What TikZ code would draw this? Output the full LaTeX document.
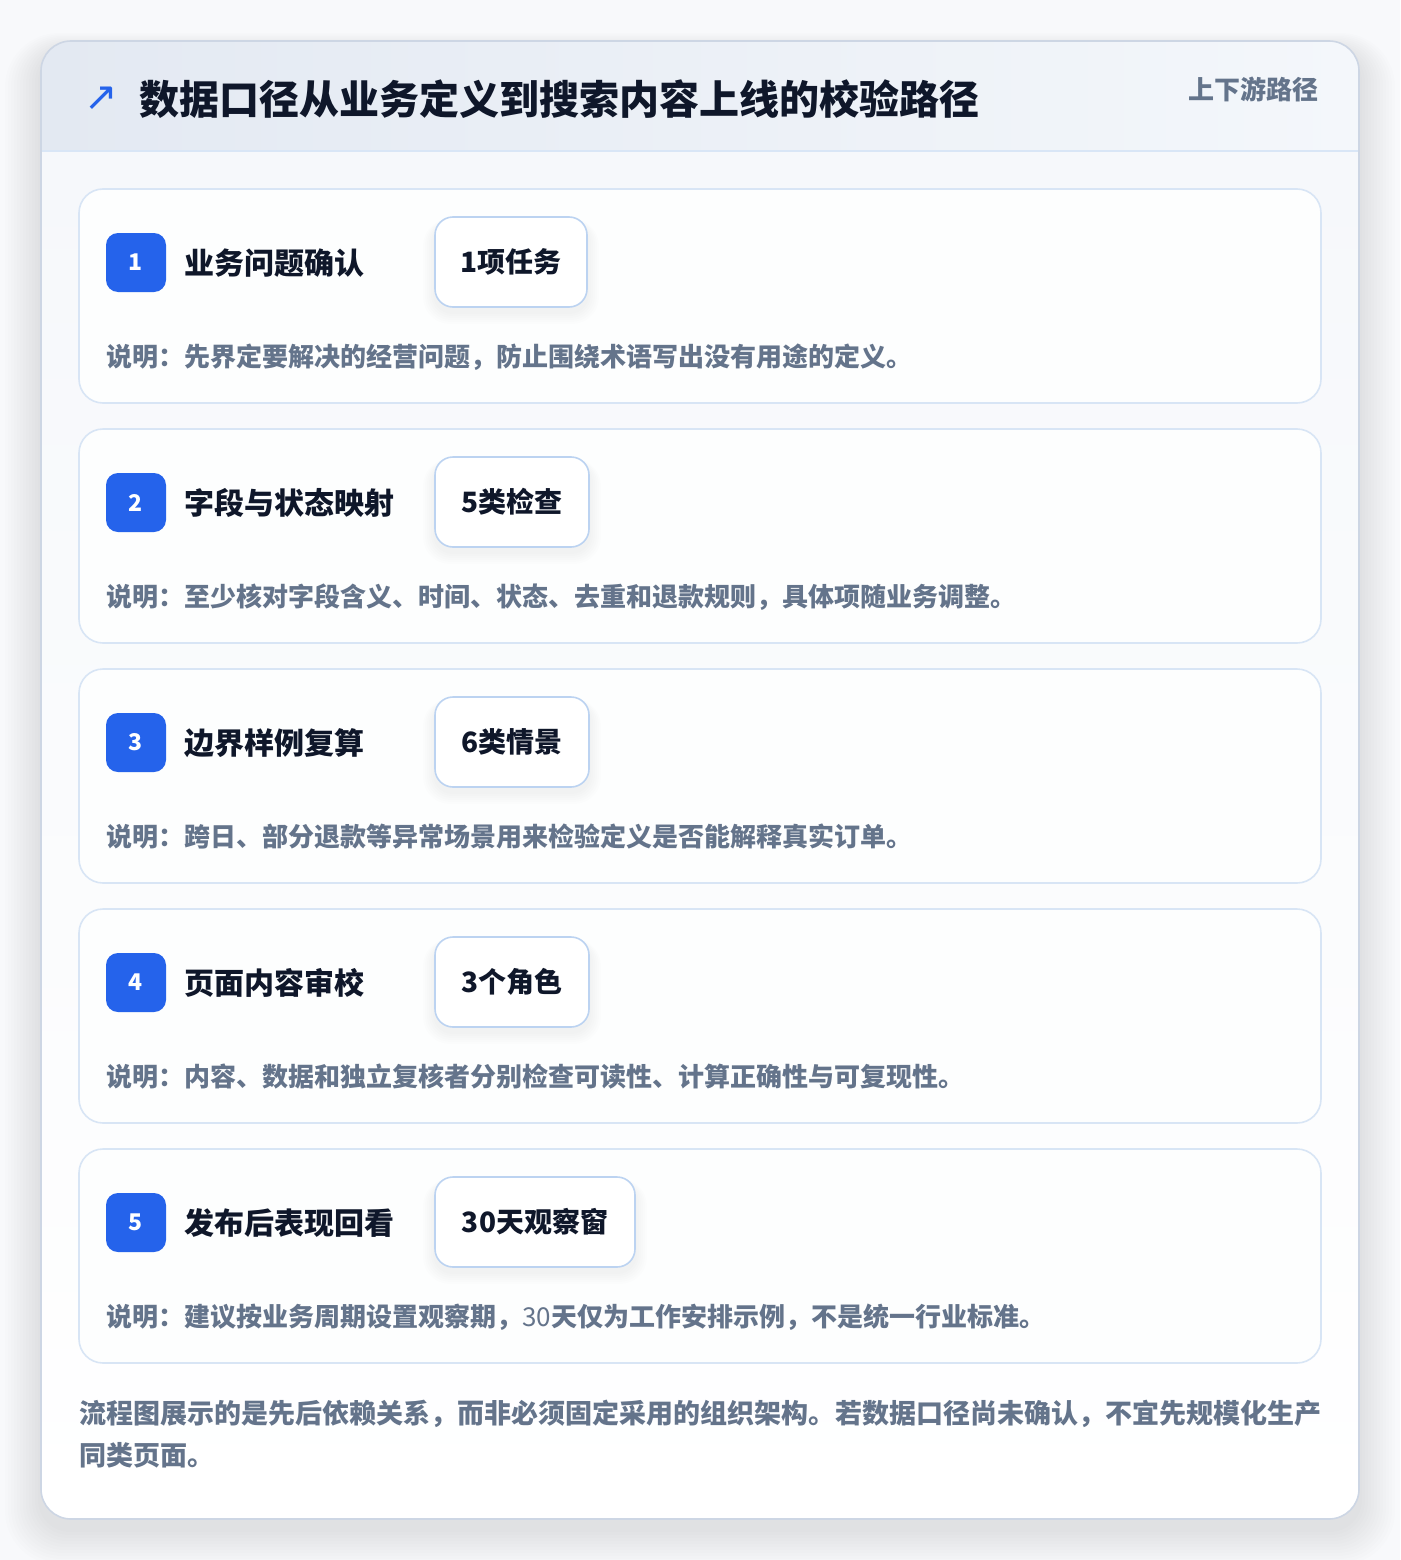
\documentclass[tikz,border=0pt]{standalone}
\usepackage{fontspec}
\setmainfont{Noto Sans CJK SC}
\definecolor{pagebg}{HTML}{F8F9FB}
\definecolor{cardborder}{HTML}{CDD6E4}
\definecolor{headL}{HTML}{E3E9F2}
\definecolor{headR}{HTML}{F4F7FB}
\definecolor{headline}{HTML}{D9E6F6}
\definecolor{bodytop}{HTML}{F6F8FB}
\definecolor{stepborder}{HTML}{D8E5F5}
\definecolor{stepfill}{HTML}{FDFEFE}
\definecolor{tagborder}{HTML}{BCD3F1}
\definecolor{accent}{HTML}{2563EB}
\definecolor{ink}{HTML}{0F172A}
\definecolor{muted}{HTML}{64748B}
\tikzset{
  stepcard/.style={draw=stepborder, line width=1.6pt, fill=stepfill, rounded corners=24pt, minimum width=1242pt, minimum height=214pt, inner sep=0pt},
  badge/.style={fill=accent, rounded corners=12pt, minimum width=60pt, minimum height=59pt, inner sep=0pt, text=white, font=\fontsize{23}{25}\selectfont\bfseries},
  steptitle/.style={anchor=west, inner sep=0pt, text=ink, font=\fontsize{30}{34}\selectfont\bfseries},
  tagbox/.style={draw=tagborder, line width=1.6pt, fill=white, rounded corners=18pt, minimum height=90pt, inner sep=0pt, text=ink, font=\fontsize{28}{32}\selectfont\bfseries},
  desc/.style={anchor=west, inner sep=0pt, text=muted, font=\fontsize{26}{30}\selectfont\bfseries},
}
\begin{document}
\begin{tikzpicture}[x=1pt,y=-1pt]
\path[use as bounding box, fill=pagebg] (0,0) rectangle (1400,1560);
% outer shadow
\foreach \i in {1,...,12}{
  \fill[black, opacity=0.007, rounded corners={30pt+\i*2pt}] ({41-\i*3},{41-\i*1.5+10}) rectangle ({1359+\i*3},{1519+\i*3+10});
}
% outer card
\begin{scope}
  \clip[rounded corners=30pt] (41,41) rectangle (1359,1519);
  \fill[top color=bodytop, bottom color=white] (41,151) rectangle (1359,1519);
  \fill[left color=headL, right color=headR] (41,41) rectangle (1359,151);
  \draw[headline, line width=1.6pt] (41,151) -- (1359,151);
\end{scope}
\draw[cardborder, line width=1.6pt, rounded corners=30pt] (41,41) rectangle (1359,1519);
% header
\node[inner sep=0pt, text=accent, font=\fontsize{40}{42}\selectfont] (icon) at (101,99) {\fontspec{DejaVu Sans}↗};
\node[anchor=west, inner sep=0pt, text=ink, font=\fontsize{40}{44}\selectfont\bfseries] (title) at (139,99) {数据口径从业务定义到搜索内容上线的校验路径};
\node[anchor=east, inner sep=0pt, text=muted, font=\fontsize{26}{30}\selectfont\bfseries] (flag) at (1319,89) {上下游路径};
% steps
\foreach \n/\top/\ttl/\tag/\tw/\ds in {
  1/189/业务问题确认/1项任务/152/说明：先界定要解决的经营问题，防止围绕术语写出没有用途的定义。,
  2/429/字段与状态映射/5类检查/154/说明：至少核对字段含义、时间、状态、去重和退款规则，具体项随业务调整。,
  3/669/边界样例复算/6类情景/154/说明：跨日、部分退款等异常场景用来检验定义是否能解释真实订单。,
  4/909/页面内容审校/3个角色/154/说明：内容、数据和独立复核者分别检查可读性、计算正确性与可复现性。,
  5/1149/发布后表现回看/30天观察窗/200/说明：建议按业务周期设置观察期，{\mdseries 30}天仅为工作安排示例，不是统一行业标准。}{
  \node[stepcard] (card\n) at (700,{\top+107}) {};
  \node[badge] (badge\n) at (136,{\top+73.5}) {\n};
  \node[steptitle] (stitle\n) at (184,{\top+74}) {\ttl};
  % tag shadow
  \foreach \k in {1,...,6}{
    \fill[black, opacity=0.007, rounded corners={18pt+\k*1.5pt}] ({435-\k*2},{\top+28-\k*0.5+5}) rectangle ({435+\tw+\k*2},{\top+118+\k*2+5});
  }
  \node[tagbox, minimum width=\tw pt] (tag\n) at ({435+\tw/2},{\top+73}) {\tag};
  \node[desc] (desc\n) at (106,{\top+168}) {\ds};
}
% footer
\node[anchor=north west, inner sep=0pt, text=muted, align=left, font=\fontsize{27}{42}\selectfont\bfseries] (note) at (79,1400) {流程图展示的是先后依赖关系，而非必须固定采用的组织架构。若数据口径尚未确认，不宜先规模化生产\\同类页面。};
\end{tikzpicture}
\end{document}
